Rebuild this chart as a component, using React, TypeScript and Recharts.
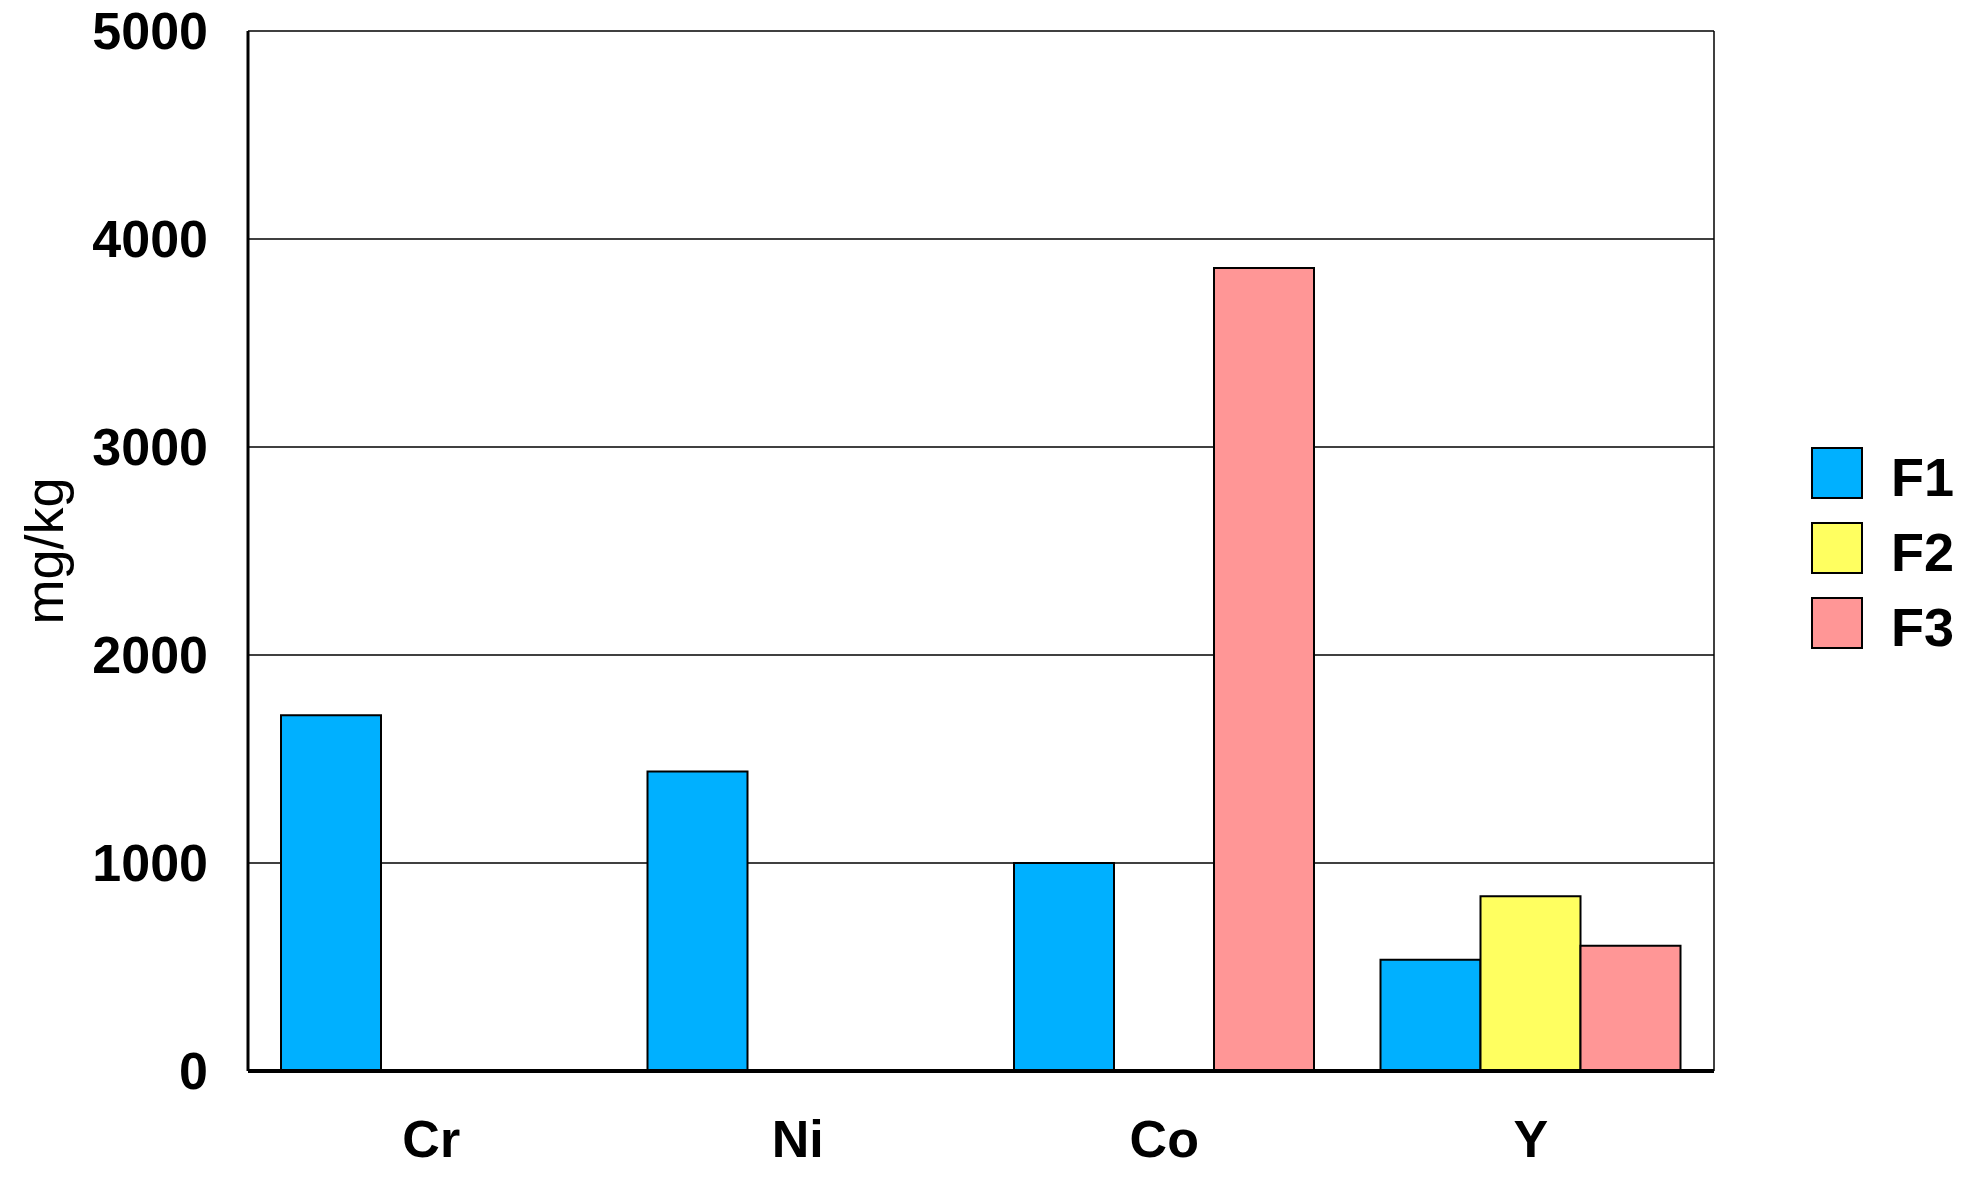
import React from "react"
import {
  BarChart,
  Bar,
  XAxis,
  YAxis,
  CartesianGrid,
  Label,
} from "recharts"

const elements = ["Cr", "Ni", "Co", "Y"]
const f1 = [1710, 1440, 1000, 535]
const f2 = [0, 0, 0, 840]
const f3 = [0, 0, 3860, 602]
const yTicks = [0, 1000, 2000, 3000, 4000, 5000]

const series = [
  { key: "F1", color: "#00B0FF" },
  { key: "F2", color: "#FFFF60" },
  { key: "F3", color: "#FF9696" },
]

const data = elements.map((name, i) => ({
  name,
  F1: f1[i],
  F2: f2[i],
  F3: f3[i],
}))

const FONT = "'Liberation Sans', Arial, sans-serif"

// legend sits outside the plot, right side
function LegendBox() {
  return (
    <div style={{ position: "absolute", left: 1811, top: 435, fontFamily: FONT }}>
      {series.map((s) => (
        <div
          key={s.key}
          style={{ display: "flex", alignItems: "center", height: 75 }}
        >
          <div
            style={{
              width: 48,
              height: 48,
              background: s.color,
              border: "2px solid #000",
              boxSizing: "content-box",
            }}
          />
          <span
            style={{
              marginLeft: 28,
              fontSize: 54,
              fontWeight: "bold",
              color: "#000",
              lineHeight: 1,
              position: "relative",
              top: 4,
            }}
          >
            {s.key}
          </span>
        </div>
      ))}
    </div>
  )
}

export default function App() {
  return (
    <div style={{ position: "absolute", left: 0, top: 0, width: 1964, height: 1181, background: "#fff" }}>
      <BarChart
        width={1964}
        height={1181}
        data={data}
        margin={{ top: 31, right: 249, bottom: 0, left: 0 }}
        barSize={100}
        barGap={0}
      >
        <CartesianGrid vertical={false} stroke="#000" strokeWidth={1.3} />
        <XAxis
          dataKey="name"
          height={110}
          tickLine={false}
          tickSize={0}
          tickMargin={49}
          axisLine={{ stroke: "#000", strokeWidth: 4 }}
          tick={{ fontSize: 52, fontWeight: "bold", fill: "#000", fontFamily: FONT }}
        />
        <YAxis
          width={248}
          domain={[0, 5000]}
          ticks={yTicks}
          tickLine={false}
          tickSize={0}
          tickMargin={40}
          axisLine={{ stroke: "#000", strokeWidth: 3 }}
          tick={{ fontSize: 52, fontWeight: "bold", fill: "#000", fontFamily: FONT }}
        >
          <Label
            content={() => (
              <text
                x={44}
                y={551}
                transform="rotate(-90 44 551)"
                textAnchor="middle"
                dominantBaseline="central"
                fontSize={54}
                fontFamily={FONT}
                fill="#000"
              >
                mg/kg
              </text>
            )}
          />
        </YAxis>
        <YAxis
          yAxisId="right"
          orientation="right"
          width={1}
          domain={[0, 5000]}
          tick={false}
          tickLine={false}
          axisLine={{ stroke: "#000", strokeWidth: 1.5 }}
        />
        {series.map((s) => (
          <Bar
            key={s.key}
            dataKey={s.key}
            fill={s.color}
            stroke="#000"
            strokeWidth={2}
            isAnimationActive={false}
          />
        ))}
      </BarChart>
      <LegendBox />
    </div>
  )
}
